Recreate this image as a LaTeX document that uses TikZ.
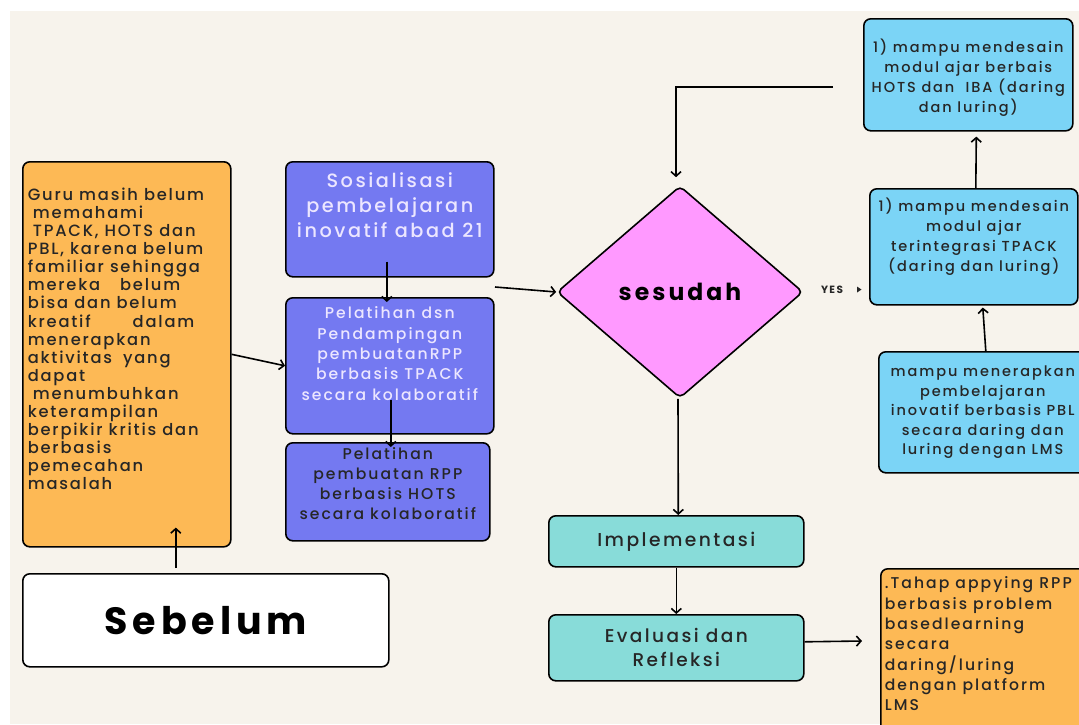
\documentclass[tikz,border=0pt]{standalone}
\usepackage{fontspec}
\setmainfont{Poppins}[UprightFont={* Medium},BoldFont={* Bold},LetterSpace=13]
\usetikzlibrary{shapes.geometric,arrows.meta}
\definecolor{bgC}{HTML}{F7F3EC}
\definecolor{orC}{HTML}{FDB955}
\definecolor{blC}{HTML}{7479F1}
\definecolor{lbC}{HTML}{7BD4F6}
\definecolor{tlC}{HTML}{88DCD9}
\definecolor{pkC}{HTML}{FF99FF}
\definecolor{txC}{HTML}{262626}
\definecolor{ltC}{HTML}{ECE6FF}
\newcommand{\bxt}[4]{\parbox[c][#2][t]{#1}{\vspace*{#3}#4}}
\begin{document}
\begin{tikzpicture}[x=1pt,y=-1pt,
  box/.style={draw=black, line width=1.6pt, rounded corners=7pt, inner sep=0pt, anchor=north west, text=txC},
  arr/.style={line width=1.6pt, -{Straight Barb[length=4.5pt,width=10pt]}},
  fs/.style={font=\fontsize{16.3}{18.1}\selectfont\addfontfeature{LetterSpace=11}}]
\useasboundingbox (0,0) rectangle (1079,724);
\clip (0,0) rectangle (1079,724);
\fill[white] (0,0) rectangle (1079,724);
\fill[bgC] (10,11) rectangle (1079,724);

% left problem box
\node[box, fill=orC, fs] (prob) at (22,161)
  {\bxt{208pt}{385pt}{26pt}{\raggedright\leftskip=5pt
   Guru masih belum\\
   \hspace*{5pt}memahami\\
   \hspace*{5pt}TPACK, HOTS dan\\
   PBL, karena belum\\
   familiar sehingga\\
   mereka\hspace{20pt}belum\\
   bisa dan belum\\
   kreatif\hspace{42pt}dalam\\
   menerapkan\\
   aktivitas\hspace{5pt} yang\\
   dapat\\
   \hspace*{5pt}menumbuhkan\\
   keterampilan\\
   berpikir kritis dan\\
   berbasis\\
   pemecahan\\
   masalah}};

\node[box, fill=white, minimum width=366pt, minimum height=93pt,
  font=\fontsize{38}{40}\selectfont\bfseries, text=black] (seb) at (22,573) {Sebelum};

% blue boxes
\node[box, fill=blC, text=ltC, font=\fontsize{19.3}{25}\selectfont] (sos) at (285,161)
  {\bxt{208pt}{115pt}{11pt}{\centering Sosialisasi\\ pembelajaran\\ inovatif abad 21}};
\node[box, fill=blC, text=ltC, font=\fontsize{15.6}{20.3}\selectfont] (pel1) at (285,297)
  {\bxt{208pt}{136pt}{9pt}{\centering Pelatihan dsn\\ Pendampingan\\ pembuatanRPP\\ berbasis TPACK\\ secara kolaboratif}};
\node[box, fill=blC, font=\fontsize{15.6}{20}\selectfont] (pel2) at (285,442)
  {\bxt{204pt}{98pt}{5pt}{\centering Pelatihan\\ pembuatan RPP\\ berbasis HOTS\\ secara kolaboratif}};

% diamond
\node[diamond, draw=black, line width=1.6pt, fill=pkC, minimum width=246pt, minimum height=212pt,
  inner sep=0pt, rounded corners=5pt, font=\fontsize{23.5}{26}\selectfont\bfseries, text=black] (dia) at (680,292) {sesudah};
\node[font=\fontsize{10.5}{12}\selectfont\bfseries, text=txC, inner sep=0pt] (yes) at (832,290) {YES};
\fill[txC] (857,286.5) -- (861.5,289.5) -- (857,292.5) -- cycle;

% light blue boxes
\node[box, fill=lbC, font=\fontsize{14.5}{20}\selectfont] (top) at (863,18)
  {\bxt{209pt}{112pt}{20pt}{\centering 1) mampu mendesain\\ modul ajar berbais\\ HOTS dan\ \ IBA (daring\\ dan luring)}};
\node[box, fill=lbC, font=\fontsize{14.5}{20}\selectfont] (tp) at (869,188)
  {\bxt{208pt}{116pt}{9pt}{\centering 1) mampu mendesain\\ modul ajar\\ terintegrasi TPACK\\ (daring dan luring)}};
\node[box, fill=lbC, font=\fontsize{14.5}{19.5}\selectfont] (pbl) at (878,351)
  {\bxt{208pt}{121pt}{14pt}{\centering mampu menerapkan\\ pembelajaran\\ inovatif berbasis PBL\\ secara daring dan\\ luring dengan LMS}};

% teal boxes
\node[box, fill=tlC, minimum width=255pt, minimum height=51pt, font=\fontsize{18.7}{20}\selectfont] (impl) at (548,515) {Implementasi};
\node[box, fill=tlC, minimum width=255pt, minimum height=66pt, font=\fontsize{18.5}{24}\selectfont, align=center] (eval) at (548,614) {Evaluasi dan\\ Refleksi};

% bottom right orange
\node[box, fill=orC, font=\fontsize{15.6}{20.3}\selectfont] (app) at (880,568)
  {\bxt{220pt}{180pt}{8pt}{\raggedright\leftskip=4pt
   .Tahap appying RPP\\ berbasis problem\\ basedlearning\\ secara\\ daring/luring\\ dengan platform\\ LMS}};

% connectors
\draw[arr] ([xshift=-30pt,yshift=5pt]seb.north) -- ([xshift=49pt,yshift=20pt]prob.south);
\draw[arr] (prob.east) -- (pel1.west);
\draw[arr] ([xshift=-3pt,yshift=16pt]sos.south) -- ([xshift=-3pt,yshift=-5pt]pel1.north);
\draw[arr] ([xshift=1pt,yshift=35pt]pel1.south) -- ([xshift=3pt,yshift=-5pt]pel2.north);
\coordinate (pout) at (495,287);
\draw[arr] (pout) -- (dia.west);
\coordinate (tout) at (833,87);
\draw[arr] (tout) -| ([xshift=-4pt,yshift=8pt]dia.north);
\draw[arr] ([xshift=2pt]tp.north) -- ([xshift=8pt,yshift=-5pt]top.south);
\draw[arr] ([xshift=3pt]pbl.north) -- ([xshift=9pt,yshift=-2pt]tp.south);
\draw[arr] ([xshift=-2pt]dia.south) -- ([xshift=2pt]impl.north);
\draw[arr] (impl.south) -- (eval.north);
\coordinate (aend) at (862,641);
\draw[arr] ([yshift=6pt]eval.east) -- (aend);
\end{tikzpicture}
\end{document}
